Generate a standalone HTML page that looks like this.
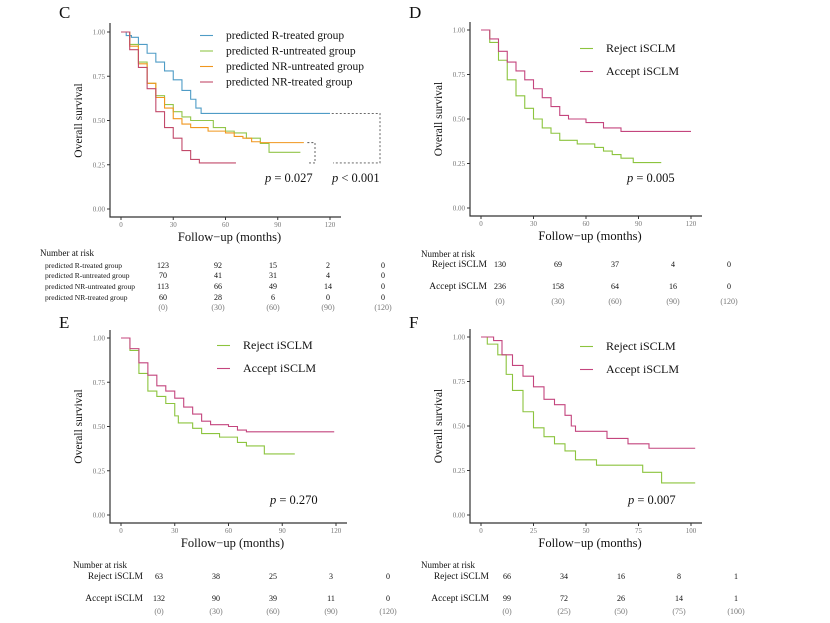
<!DOCTYPE html>
<html><head><meta charset="utf-8"><style>
body{margin:0;background:#fff}
svg{display:block;font-family:"Liberation Serif",serif}
</style></head><body>
<svg id="fig" width="830" height="623" viewBox="0 0 830 623" xmlns="http://www.w3.org/2000/svg"></svg>
<script>
// ---- data ----
const cRTreated=[[0,1],[3,0.98],[6,0.97],[10,0.93],[15,0.88],[20,0.83],[25,0.78],[30,0.73],[35,0.67],[40,0.62],[43,0.57],[46,0.54],[120,0.54]];
const cRUntreated=[[0,1],[5,0.93],[10,0.83],[15,0.71],[20,0.64],[25,0.59],[30,0.55],[35,0.52],[40,0.50],[53,0.46],[60,0.44],[65,0.43],[72,0.40],[80,0.37],[85,0.32],[103,0.32]];
const cNRUntreated=[[0,1],[5,0.92],[10,0.82],[15,0.71],[20,0.63],[25,0.57],[30,0.51],[35,0.48],[40,0.46],[50,0.44],[60,0.43],[65,0.41],[70,0.40],[75,0.38],[80,0.375],[105,0.375]];
const cNRTreated=[[0,1],[5,0.9],[10,0.8],[15,0.68],[20,0.55],[25,0.46],[30,0.4],[35,0.33],[40,0.28],[45,0.26],[66,0.26]];
const dReject=[[0,1],[5,0.93],[10,0.83],[15,0.72],[20,0.63],[25,0.56],[30,0.50],[35,0.45],[40,0.42],[45,0.38],[55,0.36],[65,0.34],[70,0.32],[75,0.30],[80,0.28],[87,0.255],[103,0.255]];
const dAccept=[[0,1],[5,0.95],[10,0.88],[15,0.82],[20,0.77],[25,0.72],[30,0.67],[35,0.62],[40,0.57],[45,0.52],[50,0.50],[60,0.48],[70,0.45],[80,0.43],[120,0.43]];
const eReject=[[0,1],[5,0.93],[10,0.80],[15,0.70],[20,0.67],[25,0.63],[30,0.56],[32,0.52],[40,0.49],[45,0.46],[55,0.44],[65,0.41],[70,0.39],[80,0.345],[97,0.345]];
const eAccept=[[0,1],[5,0.94],[10,0.86],[15,0.79],[20,0.73],[25,0.70],[30,0.66],[35,0.61],[40,0.57],[45,0.53],[50,0.51],[60,0.50],[65,0.48],[70,0.47],[119,0.47]];
const fReject=[[0,1],[3,0.96],[8,0.90],[12,0.79],[15,0.70],[20,0.58],[25,0.49],[30,0.44],[35,0.40],[40,0.36],[45,0.31],[55,0.28],[77,0.24],[86,0.18],[102,0.18]];
const fAccept=[[0,1],[6,0.98],[10,0.90],[15,0.84],[20,0.78],[25,0.72],[30,0.65],[35,0.62],[40,0.56],[43,0.50],[45,0.47],[60,0.43],[70,0.40],[80,0.375],[102,0.375]];
const yTicks=[0,0.25,0.5,0.75,1];
const yTickLabels=["0.00","0.25","0.50","0.75","1.00"];
const xTicks120=[0,30,60,90,120];
const xTicks100=[0,25,50,75,100];
const cRiskLabels=["predicted R-treated group","predicted R-untreated group","predicted NR-untreated group","predicted NR-treated group"];
const cRisk=[[123,92,15,2,0],[70,41,31,4,0],[113,66,49,14,0],[60,28,6,0,0]];
const dRisk=[[130,69,37,4,0],[236,158,64,16,0]];
const eRisk=[[63,38,25,3,0],[132,90,39,11,0]];
const fRisk=[[66,34,16,8,1],[99,72,26,14,1]];
const twoLabels=["Reject iSCLM","Accept iSCLM"];

const NS="http://www.w3.org/2000/svg";
const svg=document.getElementById('fig');
function el(tag,attrs,parent,text){const e=document.createElementNS(NS,tag);for(const k in attrs)e.setAttribute(k,attrs[k]);if(text!==undefined)e.textContent=text;(parent||svg).appendChild(e);return e;}

function panel(p){
  const g=el('g',{});
  
  
  const sx=v=>p.x0+(v-0)/p.xmax*(p.x1-p.x0);
  const sy=v=>p.y0+(1-v)*(p.y1-p.y0);
  const lt=el('text',{x:p.letterX,y:p.letterY,'font-size':17,fill:'#111'},g,p.id.toUpperCase());
  
  const ax=el('path',{d:`M${p.axX},${p.axTop}V${p.axY}H${p.axRight}`,stroke:'#333',fill:'none','stroke-width':1.2},g);
  
  yTicks.forEach((t,i)=>{
    el('line',{x1:p.axX-3,x2:p.axX,y1:sy(t),y2:sy(t),stroke:'#333'},g);
    const tl=el('text',{x:p.axX-5,y:sy(t)+2.5,'font-size':7,fill:'#777','text-anchor':'end'},g,yTickLabels[i]);
    
  });
  p.xTicks.forEach(t=>{
    el('line',{x1:sx(t),x2:sx(t),y1:p.axY,y2:p.axY+3,stroke:'#333'},g);
    const tl=el('text',{x:sx(t),y:p.axY+10,'font-size':7,fill:'#777','text-anchor':'middle'},g,String(t));
    
  });
  const xt=el('text',{x:(p.axX+p.axRight)/2+4,y:p.axY+24,'font-size':12.5,fill:'#111','text-anchor':'middle'},g,'Follow\u2212up (months)');
  
  const yc=(p.y0+p.y1)/2;
  const yt=el('text',{x:p.axX-28,y:yc,'font-size':11.5,fill:'#111','text-anchor':'middle',transform:`rotate(-90 ${p.axX-28} ${yc})`},g,'Overall survival');
  
  p.series.forEach((s,i)=>{
    let d=`M${sx(s.data[0][0])},${sy(s.data[0][1])}`;
    for(let k=1;k<s.data.length;k++)d+=`H${sx(s.data[k][0])}V${sy(s.data[k][1])}`;
    const path=el('path',{d,stroke:s.color,fill:'none','stroke-width':1.1},g);
    
    
    const ly=p.legY+i*p.legGap;
    el('line',{x1:p.legX,x2:p.legX+13,y1:ly-3.5,y2:ly-3.5,stroke:s.color,'stroke-width':1.1},g);
    const lg=el('text',{x:p.legX+26,y:ly,'font-size':p.legFont,fill:'#111'},g,s.label);
    
  });
  p.pvals.forEach(pv=>{
    const t=el('text',{x:pv[0],y:pv[1],'font-size':12.5,fill:'#111'},g);
    
    el('tspan',{'font-style':'italic'},t,'p');
    el('tspan',{},t,pv[2]);
  });
  // risk table
  const nr=el('text',{x:p.rx,y:p.ry,'font-size':p.rNumFont+1,fill:'#111'},g,'Number at risk');
  
  p.risk.forEach((row,r)=>{
    const y=p.rowY[r];
    const lab=el('text',{x:p.labX,y,'font-size':p.rLabFont,fill:'#111','text-anchor':p.labAnchor},g,p.riskLabels[r]);
    
    row.forEach((v,c)=>{
      const t=el('text',{x:p.cols[c],y,'font-size':p.rNumFont,fill:'#111','text-anchor':'middle'},g,String(v));
      
    });
  });
  p.xTicks.forEach((t,c)=>{
    const tt=el('text',{x:p.cols[c],y:p.parenY,'font-size':p.rNumFont,fill:'#777','text-anchor':'middle'},g,'('+t+')');
    
  });
  return {g,sx,sy};
}

const C=panel({id:'c',letterX:59,letterY:18,x0:121,x1:330,xmax:120,y0:32,y1:209,axX:110,axTop:23,axY:217,axRight:341,xTicks:xTicks120,
  series:[{name:'r-treated',label:'predicted R-treated group',color:'#4f9cc6',data:cRTreated},
          {name:'r-untreated',label:'predicted R-untreated group',color:'#92c54a',data:cRUntreated},
          {name:'nr-untreated',label:'predicted NR-untreated group',color:'#f0961e',data:cNRUntreated},
          {name:'nr-treated',label:'predicted NR-treated group',color:'#c24a6a',data:cNRTreated}],
  legX:200,legY:39,legGap:15.5,legFont:11.5,pvals:[[265,182,' = 0.027'],[332,182,' < 0.001']],
  rx:40,ry:256,risk:cRisk,riskLabels:cRiskLabels,rowY:[268,278,289,300],labX:45,labAnchor:'start',rLabFont:7.5,rNumFont:8,
  cols:[163,218,273,328,383],parenY:310});
const dash=el('path',{d:`M${C.sx(121)},${C.sy(0.54)}H380V${C.sy(0.26)}H333M${C.sx(107)},${C.sy(0.375)}H315V${C.sy(0.26)}H307`,stroke:'#555',fill:'none','stroke-dasharray':'2,2','stroke-width':0.9},C.g);


panel({id:'d',letterX:409,letterY:18,x0:481,x1:691,xmax:120,y0:30,y1:208,axX:470,axTop:22,axY:216,axRight:702,xTicks:xTicks120,
  series:[{name:'reject',label:'Reject iSCLM',color:'#8cc43e',data:dReject},{name:'accept',label:'Accept iSCLM',color:'#c4457e',data:dAccept}],
  legX:580,legY:52,legGap:23,legFont:12,pvals:[[627,182,' = 0.005']],
  rx:421,ry:257,risk:dRisk,riskLabels:twoLabels,rowY:[267,289],labX:487,labAnchor:'end',rLabFont:9.5,rNumFont:8,
  cols:[500,558,615,673,729],parenY:304});

panel({id:'e',letterX:59,letterY:328,x0:121,x1:336,xmax:120,y0:338,y1:515,axX:110,axTop:330,axY:523,axRight:347,xTicks:xTicks120,
  series:[{name:'reject',label:'Reject iSCLM',color:'#8cc43e',data:eReject},{name:'accept',label:'Accept iSCLM',color:'#c4457e',data:eAccept}],
  legX:217,legY:349,legGap:23,legFont:12,pvals:[[270,504,' = 0.270']],
  rx:73,ry:568,risk:eRisk,riskLabels:twoLabels,rowY:[579,601],labX:143,labAnchor:'end',rLabFont:9.5,rNumFont:8,
  cols:[159,216,273,331,388],parenY:614});

panel({id:'f',letterX:409,letterY:328,x0:481,x1:691,xmax:100,y0:337,y1:515,axX:470,axTop:329,axY:523,axRight:702,xTicks:xTicks100,
  series:[{name:'reject',label:'Reject iSCLM',color:'#8cc43e',data:fReject},{name:'accept',label:'Accept iSCLM',color:'#c4457e',data:fAccept}],
  legX:580,legY:350,legGap:23,legFont:12,pvals:[[628,504,' = 0.007']],
  rx:421,ry:568,risk:fRisk,riskLabels:twoLabels,rowY:[579,601],labX:489,labAnchor:'end',rLabFont:9.5,rNumFont:8,
  cols:[507,564,621,679,736],parenY:614});
</script>
</body></html>
